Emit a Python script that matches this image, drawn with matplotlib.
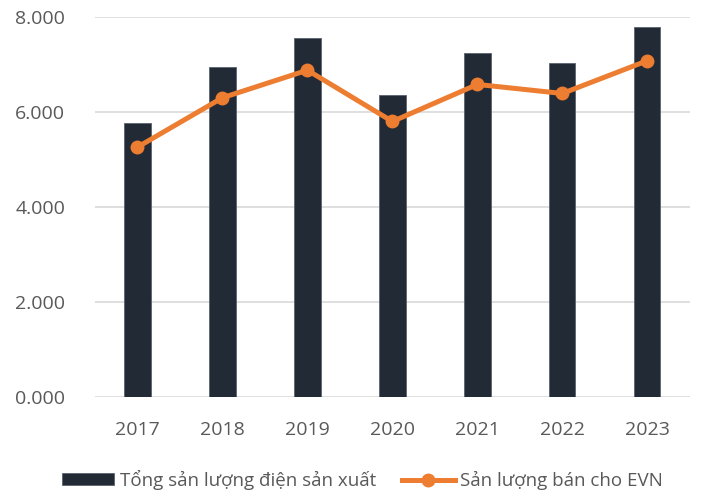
import matplotlib.pyplot as plt
import numpy as np
from matplotlib.ticker import FuncFormatter

plt.rcParams['font.family'] = ['Open Sans', 'DejaVu Sans']

years = ["2017", "2018", "2019", "2020", "2021", "2022", "2023"]
tong_san_luong = [5.77, 6.95, 7.55, 6.36, 7.24, 7.03, 7.79]
ban_cho_evn = [5.26, 6.30, 6.88, 5.80, 6.58, 6.39, 7.08]

bar_color = "#222A35"
line_color = "#ED7D31"
text_color = "#595959"

fig = plt.figure(figsize=(7.01, 4.94), dpi=100)
ax = fig.add_axes([0.1355, 0.1964, 0.8485, 0.7692])

x = np.arange(len(years))
bars = ax.bar(x, tong_san_luong, width=0.31, color=bar_color, edgecolor="#5a6270",
              linewidth=0.6, zorder=2, label="Tổng sản lượng điện sản xuất")
line, = ax.plot(x, ban_cho_evn, color=line_color, linewidth=3.6, marker="o",
                markersize=9, zorder=3, label="Sản lượng bán cho EVN")

ax.set_xlim(-0.5, 6.5)
ax.set_ylim(0, 8)
ax.set_yticks([0, 2, 4, 6, 8])
ax.yaxis.set_major_formatter(FuncFormatter(lambda v, p: f"{v:.3f}"))
ax.set_xticks(x)
ax.set_xticklabels(years)

ax.grid(axis="y", color="#D9D9D9", linewidth=1.2, zorder=0)
for s in ax.spines.values():
    s.set_visible(False)
ax.tick_params(axis="both", length=0, labelsize=14, labelcolor=text_color)
ax.tick_params(axis="y", pad=21.5)
ax.tick_params(axis="x", pad=17)

fig.legend([bars, line], [bars.get_label(), line.get_label()],
           loc="center left", bbox_to_anchor=(0.0884, 0.0283), ncol=2, frameon=False,
           fontsize=13.5, labelcolor=text_color, handlelength=2.8, borderpad=0,
           borderaxespad=0, handletextpad=0.27, columnspacing=1.4, handleheight=0.6)

fig.savefig("out.png", dpi=100)
